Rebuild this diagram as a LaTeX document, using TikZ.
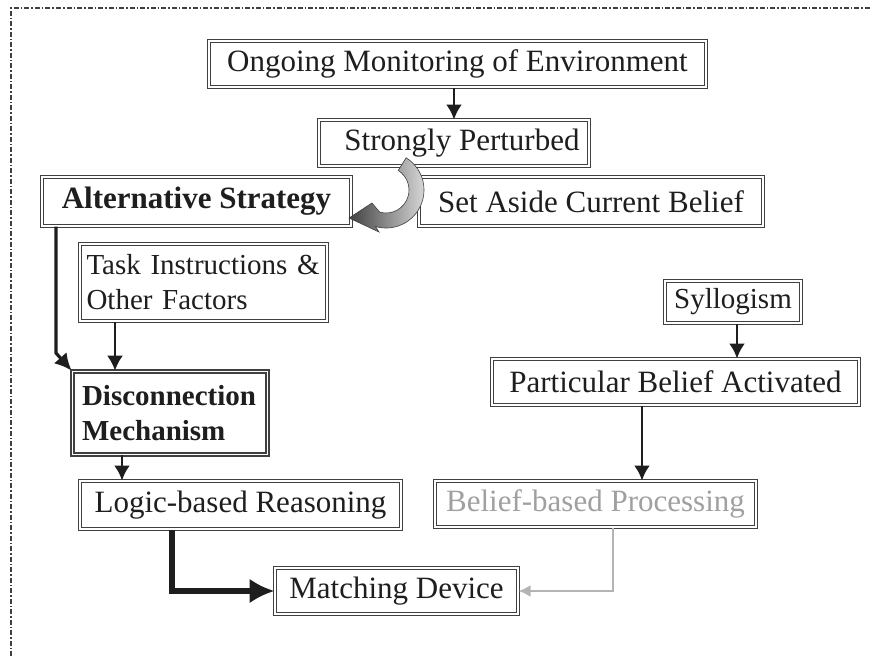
\documentclass[tikz,border=0pt]{standalone}
\usepackage{fontspec}
\setmainfont{Liberation Serif}
\usetikzlibrary{arrows.meta,calc}
\definecolor{ink}{HTML}{1E1E1E}
\definecolor{frame}{HTML}{404040}
\definecolor{faint}{HTML}{A0A0A0}
\definecolor{faintline}{HTML}{B4B4B4}
\begin{document}
\begin{tikzpicture}[x=1pt,y=-1pt,
  box/.style={draw=frame, double=white, double distance=1.4pt, line width=1pt,
    fill=white, inner sep=0pt, text=ink, font=\fontsize{31}{37}\selectfont},
  heavybox/.style={box, line width=1.7pt, double distance=1.3pt},
  small/.style={font=\fontsize{29}{35}\selectfont},
  link/.style={draw=ink, line width=2.4pt, -{Latex[length=15pt,width=16pt]}},
  boldlink/.style={draw=ink, line width=3.2pt, -{Latex[length=17pt,width=17pt]}},
  fatlink/.style={draw=ink, line width=5.5pt, -{Latex[length=25pt,width=25pt]}},
  greylink/.style={draw=faintline, line width=2.2pt, -{Latex[length=12pt,width=12pt]}},
  outline/.style={draw=frame, line width=1.1pt, dash pattern=on 5pt off 2pt on 1.5pt off 2pt}
]
\useasboundingbox (0,0) rectangle (871,656);

% dash-dot frame along the top and left
\coordinate (fbl) at (11,656);
\coordinate (ftl) at (11,8);
\coordinate (ftr) at (871,8);
\draw[outline] (fbl) -- (ftl) -- (ftr);

% boxes
\node[box, minimum width=497, minimum height=46] (ongoing) at (457.5,64)
  {Ongoing Monitoring of Environment};
\node[box, minimum width=270, minimum height=46] (perturbed) at (454,143)
  {\hspace{16pt}Strongly Perturbed};
\node[box, minimum width=309, minimum height=49] (alt) at (196.5,201.5)
  {\textbf{Alternative Strategy}};
\node[box, minimum width=344, minimum height=49] (aside) at (591,201.5)
  {Set Aside Current Belief};
\node[box, small, minimum width=247, minimum height=77, text width=234pt, align=left] (task) at (203.5,282.5)
  {Task Instructions \&\\Other Factors};
\node[heavybox, small, minimum width=195, minimum height=83, text width=176pt, align=left] (disc) at (170,413)
  {\textbf{Disconnection}\\\textbf{Mechanism}};
\node[box, minimum width=321, minimum height=48] (logic) at (240.5,505)
  {Logic-based Reasoning};
\node[box, minimum width=243, minimum height=46] (match) at (396.5,591)
  {Matching Device};
\node[box, small, minimum width=136, minimum height=42] (syl) at (733,302)
  {Syllogism};
\node[box, minimum width=367, minimum height=46] (part) at (675.5,382)
  {Particular Belief Activated};
\node[box, text=faint, minimum width=321, minimum height=46] (belief) at (595.5,504)
  {Belief-based Processing};

% connector columns
\coordinate (cA) at (56,0);
\coordinate (cT) at (115,0);
\coordinate (cD) at (122,0);
\coordinate (cL) at (172,0);
\coordinate (cS) at (737,0);
\coordinate (cP) at (642,0);
\coordinate (cB) at (613,0);
\coordinate (bend) at (56,353);

% connectors
\draw[link] (ongoing.south -| perturbed) -- (perturbed.north);
\draw[boldlink] (alt.south -| cA) -- (bend) -- (disc.north west);
\draw[link] (task.south -| cT) -- (disc.north -| cT);
\draw[link] (disc.south -| cD) -- (logic.north -| cD);
\draw[fatlink] (logic.south -| cL) |- (match.west);
\draw[link] (syl.south -| cS) -- (part.north -| cS);
\draw[link] (part.south -| cP) -- (belief.north -| cP);
\draw[greylink] (belief.south -| cB) |- (match.east);

% curved shaded arrow from the perturbation to the alternative strategy
\coordinate (C) at (386,190);
\coordinate (tip) at (349,218);
\coordinate (barbL) at (379,232);
\coordinate (barbU) at (372,203);
\shadedraw[left color=black!75, right color=black!12, draw=frame, line width=0.6pt]
  ($(C)+(-58:38)$) arc[start angle=-58, end angle=106, radius=38]
  -- (barbL) -- (tip) -- (barbU)
  -- ($(C)+(106:23)$) arc[start angle=106, end angle=-58, radius=23] -- cycle;
\end{tikzpicture}
\end{document}
